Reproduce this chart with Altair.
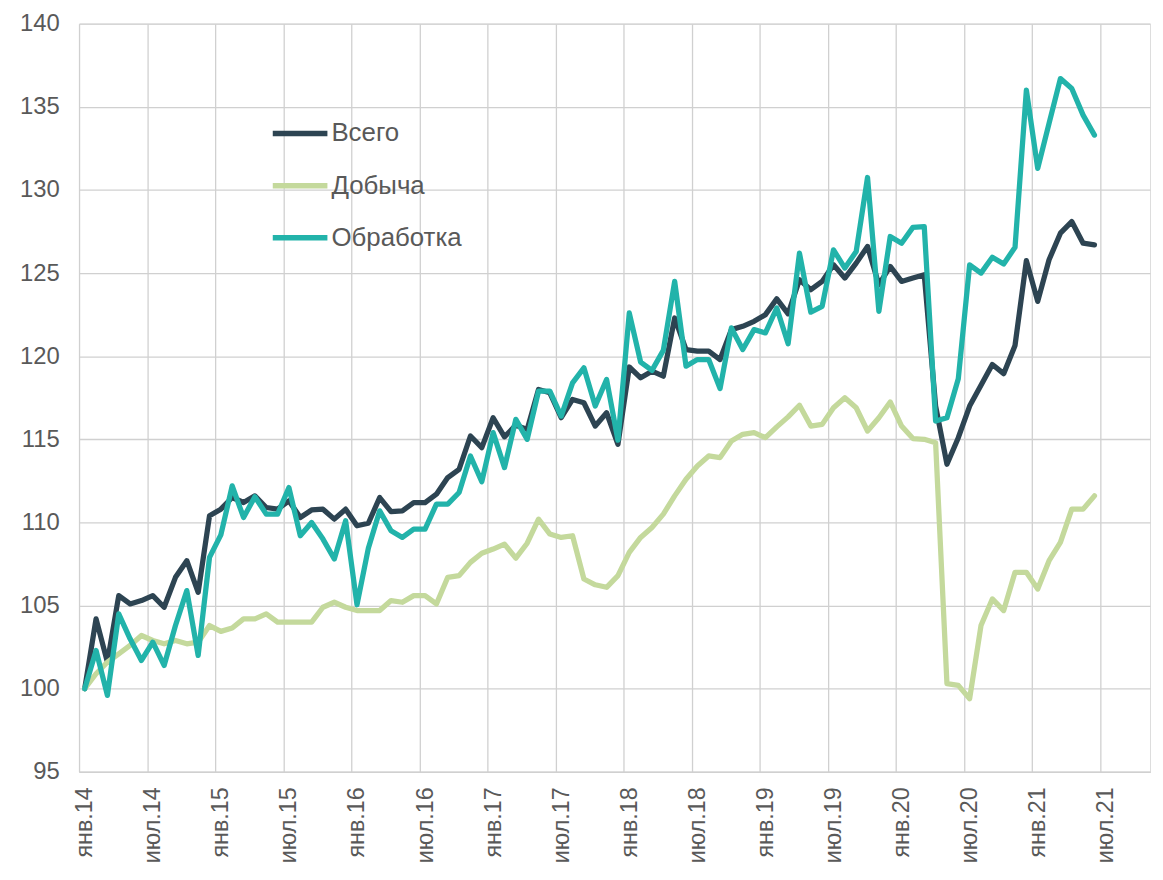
import altair as alt
import pandas as pd

# Monthly index values, Jan 2014 (=100) ... Jun 2021
vsego = [100.0, 104.2, 101.6, 105.6, 105.1, 105.3, 105.6, 104.9, 106.7, 107.7, 105.8, 110.4,
         110.8, 111.5, 111.2, 111.6, 110.9, 110.8, 111.3, 110.3, 110.75, 110.8, 110.2, 110.8,
         109.8, 109.95, 111.5, 110.65, 110.7, 111.2, 111.2, 111.7, 112.7, 113.2, 115.2, 114.5,
         116.3, 115.15, 115.85, 115.6, 118.0, 117.8, 116.3, 117.4, 117.2, 115.8, 116.6, 114.7,
         119.35, 118.7, 119.1, 118.8, 122.3, 120.4, 120.3, 120.3, 119.8, 121.6, 121.8, 122.1,
         122.5, 123.45, 122.55, 124.6, 124.0, 124.5, 125.5, 124.7, 125.6, 126.6, 124.3, 125.4,
         124.5, 124.7, 124.9, 117.0, 113.5, 115.1, 117.0, 118.25, 119.5, 118.95, 120.65, 125.75,
         123.3, 125.8, 127.4, 128.1, 126.8, 126.7]
dobycha = [100.0, 100.9, 101.6, 102.1, 102.6, 103.2, 102.9, 102.7, 102.9, 102.7, 102.8, 103.8,
           103.45, 103.65, 104.2, 104.2, 104.5, 104.0, 104.0, 104.0, 104.0, 104.9, 105.2, 104.9,
           104.7, 104.7, 104.7, 105.3, 105.2, 105.6, 105.6, 105.1, 106.7, 106.8, 107.6, 108.15,
           108.4, 108.7, 107.85, 108.75, 110.2, 109.3, 109.1, 109.2, 106.6, 106.25, 106.1, 106.8,
           108.2, 109.1, 109.7, 110.5, 111.6, 112.6, 113.4, 114.0, 113.9, 114.9, 115.3, 115.4,
           115.1, 115.75, 116.35, 117.05, 115.8, 115.9, 116.9, 117.5, 116.9, 115.5, 116.3, 117.25,
           115.8, 115.05, 115.0, 114.8, 100.3, 100.2, 99.4, 103.8, 105.4, 104.7, 107.0, 107.0,
           106.0, 107.7, 108.8, 110.8, 110.8, 111.6]
obrabotka = [100.0, 102.3, 99.6, 104.5, 103.0, 101.7, 102.8, 101.4, 103.8, 105.9, 102.0, 107.9,
             109.25, 112.2, 110.3, 111.55, 110.5, 110.5, 112.1, 109.2, 110.0, 109.0, 107.8, 110.1,
             105.05, 108.45, 110.7, 109.5, 109.1, 109.6, 109.6, 111.1, 111.1, 111.8, 114.0, 112.45,
             115.4, 113.3, 116.2, 115.0, 117.9, 117.9, 116.4, 118.4, 119.3, 117.0, 118.6, 114.95,
             122.6, 119.65, 119.15, 120.35, 124.5, 119.4, 119.8, 119.8, 118.05, 121.7, 120.4, 121.6,
             121.4, 122.9, 120.75, 126.2, 122.65, 123.0, 126.4, 125.3, 126.3, 130.75, 122.7, 127.2,
             126.8, 127.75, 127.8, 116.1, 116.3, 118.65, 125.5, 125.0, 125.95, 125.55, 126.55, 136.0,
             131.3, 134.0, 136.7, 136.1, 134.5, 133.3]

series_names = ["Всего", "Добыча", "Обработка"]
series_colors = ["#2d4452", "#c4d99c", "#22b3aa"]

tick_labels = ["янв.14", "июл.14", "янв.15", "июл.15", "янв.16", "июл.16", "янв.17", "июл.17",
               "янв.18", "июл.18", "янв.19", "июл.19", "янв.20", "июл.20", "янв.21", "июл.21"]
y_ticks = [95, 100, 105, 110, 115, 120, 125, 130, 135, 140]

rows = []
for name, vals in zip(series_names, [vsego, dobycha, obrabotka]):
    for i, v in enumerate(vals):
        rows.append({"i": i, "value": v, "series": name})
df = pd.DataFrame(rows)

# category boundaries (Excel style: gridlines between months), labels centred on months
boundaries = [6 * k - 0.5 for k in range(len(tick_labels))]
labels_js = "[" + ",".join("'" + t + "'" for t in tick_labels) + "]"

W = 1078
H = 753
month_px = W / 94.4

FONT = "Liberation Sans"
TXT = "#595959"
GRID = "#d0d0d0"

chart = alt.Chart(df).mark_line(strokeWidth=5.3, strokeCap="round", strokeJoin="round").encode(
    x=alt.X("i:Q",
            scale=alt.Scale(domain=[-0.5, 93.9], nice=False, zero=False),
            axis=alt.Axis(values=boundaries, title=None, grid=True, gridColor=GRID, gridWidth=1.3,
                          ticks=False, domain=True, domainColor=GRID, domainWidth=1.5,
                          labelAngle=-90, labelAlign="right", labelBaseline="middle",
                          labelOffset=month_px / 2, labelPadding=15,
                          labelExpr=labels_js + "[round((datum.value + 0.5) / 6)]",
                          labelFont=FONT, labelFontSize=23.5, labelColor=TXT)),
    y=alt.Y("value:Q",
            scale=alt.Scale(domain=[95, 140], nice=False, zero=False),
            axis=alt.Axis(values=y_ticks, title=None, grid=True, gridColor=GRID, gridWidth=1.3,
                          ticks=False, domain=False, labelPadding=20,
                          labelFont=FONT, labelFontSize=24, labelColor=TXT)),
    color=alt.Color("series:N",
                    scale=alt.Scale(domain=series_names, range=series_colors),
                    sort=series_names,
                    legend=alt.Legend(title=None, orient="none", legendX=192, legendY=80,
                                      symbolType="stroke", symbolSize=3025, symbolStrokeWidth=5.5,
                                      labelFont=FONT, labelFontSize=26, labelColor=TXT,
                                      labelOffset=1, rowPadding=8.5, padding=0)),
    order=alt.Order("i:Q"),
).properties(
    width=W, height=H,
    autosize=alt.AutoSizeParams(type="none"),
    padding={"left": 71.5, "top": 13, "right": 5, "bottom": 98},
).configure_view(stroke=None).configure(background="white")

chart.save("out.html", embed_options={"renderer": "svg", "actions": False})
